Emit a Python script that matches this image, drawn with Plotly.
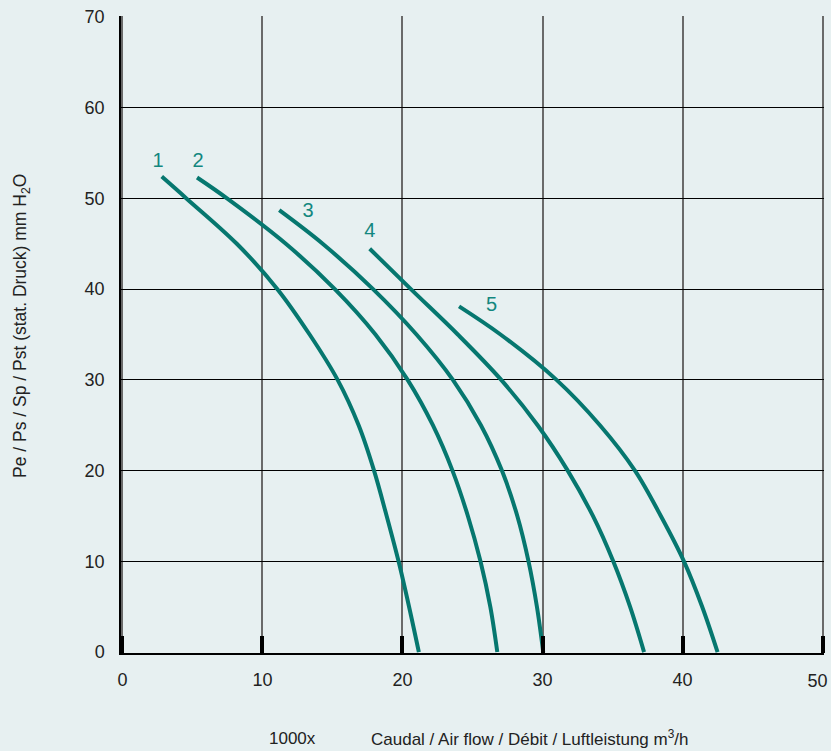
import plotly.graph_objects as go

# Curve data (x in 1000 m3/h, y in mm H2O)
c1_x = [2.81, 4.57, 8.17, 11.07, 13.37, 15.37, 16.87, 17.97, 18.87, 19.72, 20.47, 21.17]
c1_y = [52.4, 50.0, 45.0, 40.0, 35.0, 30.0, 25.0, 20.0, 15.0, 10.0, 5.0, 0.0]

c2_x = [5.33, 7.47, 11.67, 15.17, 18.07, 20.37, 22.17, 23.57, 24.67, 25.57, 26.27, 26.77]
c2_y = [52.3, 50.0, 45.0, 40.0, 35.0, 30.0, 25.0, 20.0, 15.0, 10.0, 5.0, 0.0]

c3_x = [11.2, 14.3, 17.9, 21.0, 23.6, 25.6, 27.1, 28.2, 29.0, 29.6, 30.05]
c3_y = [48.7, 45.0, 40.0, 35.0, 30.0, 25.0, 20.0, 15.0, 10.0, 5.0, 0.0]

c4_x = [17.66, 20.6, 23.95, 27.05, 29.65, 31.8, 33.6, 35.05, 36.25, 37.25]
c4_y = [44.45, 40.0, 35.0, 30.0, 25.0, 20.0, 15.0, 10.0, 5.0, 0.0]

c5_x = [24.04, 27.0, 31.0, 34.1, 36.6, 38.45, 40.1, 41.4, 42.5]
c5_y = [38.1, 35.0, 30.0, 25.0, 20.0, 15.0, 10.0, 5.0, 0.0]

label_text = ["1", "2", "3", "4", "5"]
label_x = [2.55, 5.4, 13.26, 17.66, 26.36]
label_y = [54.0, 54.0, 48.5, 46.3, 38.1]

x_ticks = [0, 10, 20, 30, 40, 50]
x_ticktext = ["0", "10", "20", "30", "40", ""]
x_edge_tick = [50]
y_ticks = [0, 10, 20, 30, 40, 50, 60, 70]

BG = "#e7f0f1"
TEAL = "#06776f"
TXT = "#222222"
FONT = "Liberation Sans, Arial, sans-serif"

fig = go.Figure()
for xs, ys in [(c1_x, c1_y), (c2_x, c2_y), (c3_x, c3_y), (c4_x, c4_y), (c5_x, c5_y)]:
    fig.add_trace(go.Scatter(x=xs, y=ys, mode="lines",
                             line=dict(color=TEAL, width=4, shape="spline", smoothing=1.0),
                             hoverinfo="skip", showlegend=False, cliponaxis=False))

fig.add_trace(go.Scatter(x=label_x, y=label_y, mode="text", text=label_text,
                         textfont=dict(color="#13877f", size=20, family=FONT),
                         textposition="middle center", showlegend=False, hoverinfo="skip"))

# slightly padded ranges so the boundary gridlines / ticks are drawn
X_RANGE = [-0.1, 50.1]
Y_RANGE = [-0.1, 70.1]

fig.update_layout(
    xaxis=dict(range=X_RANGE, tickvals=x_ticks, ticktext=x_ticktext,
               showgrid=True, gridcolor="#6a6a6a", gridwidth=1.8,
               zeroline=False, showline=True, linecolor="black", linewidth=1.5,
               ticks="inside", ticklen=17, tickwidth=4, tickcolor="black",
               ticklabelstandoff=10, ticklabeloverflow="allow", automargin=False,
               tickfont=dict(family=FONT, size=18, color=TXT)),
    # overlay axis carrying only the right-edge label, nudged left to stay inside the page
    xaxis2=dict(range=X_RANGE, overlaying="x", side="bottom", anchor="y",
                tickvals=x_edge_tick, ticktext=[str(v) for v in x_edge_tick],
                showgrid=False, zeroline=False, showline=False, ticks="",
                ticklabelstandoff=15, ticklabelshift=-5, ticklabeloverflow="allow",
                automargin=False, tickfont=dict(family=FONT, size=18, color=TXT)),
    yaxis=dict(range=Y_RANGE, tickvals=y_ticks, showgrid=True, gridcolor="black", gridwidth=1.3,
               zeroline=False, showline=True, linecolor="black", linewidth=1.5,
               ticks="", ticklabelstandoff=11, ticklabeloverflow="allow", automargin=False,
               tickfont=dict(family=FONT, size=18, color=TXT)),
)
# invisible trace to activate xaxis2
fig.add_trace(go.Scatter(x=[None], y=[None], xaxis="x2", yaxis="y", showlegend=False,
                         hoverinfo="skip", mode="markers"))

L, T = 121, 16
PW, PH = 703, 637

def px_x(p):
    return (p - L) / PW

def px_y(p):
    return (T + PH - p) / PH

fig.add_annotation(x=px_x(21), y=px_y(326), xref="paper", yref="paper", textangle=-90,
                   text="Pe / Ps / Sp / Pst (stat. Druck) mm H<sub>2</sub>O", showarrow=False,
                   xanchor="center", yanchor="middle",
                   font=dict(family=FONT, size=17.5, color=TXT))
fig.add_annotation(x=px_x(292), y=px_y(738), xref="paper", yref="paper",
                   text="1000x", showarrow=False, xanchor="center", yanchor="middle",
                   font=dict(family=FONT, size=17, color=TXT))
fig.add_annotation(x=px_x(369), y=px_y(738), xref="paper", yref="paper",
                   text="Caudal / Air flow / Débit / Luftleistung m<sup>3</sup>/h", showarrow=False,
                   xanchor="left", yanchor="middle",
                   font=dict(family=FONT, size=17, color=TXT))

fig.update_layout(
    width=831, height=751,
    paper_bgcolor=BG, plot_bgcolor=BG,
    margin=dict(l=L, r=831 - L - PW, t=T, b=751 - T - PH, autoexpand=False),
    showlegend=False,
)

fig.write_html("out.html", config={"displayModeBar": False},
               post_script="document.body.style.margin='0';document.body.style.overflow='hidden';document.body.style.background='" + BG + "';")
